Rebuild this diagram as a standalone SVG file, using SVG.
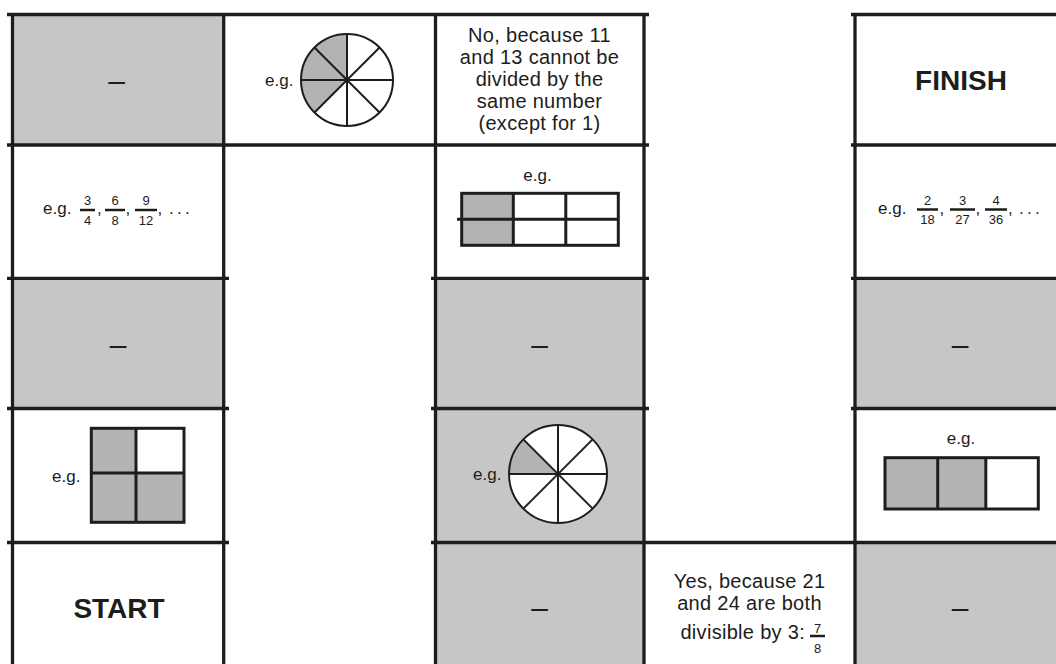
<svg xmlns="http://www.w3.org/2000/svg" width="1056" height="664" viewBox="0 0 1056 664">
<style>
.g{fill:#c6c6c6}
.w{fill:#ffffff}
.sh{fill:#b3b3b3}
.ln{stroke:#1d1d1b;stroke-width:3.3;fill:none;stroke-linecap:butt}
.t{font-family:"Liberation Sans",Arial,sans-serif;fill:#1d1d1b}
.body{font-size:20px;letter-spacing:0.3px;text-anchor:middle}
.bodyend{font-size:20px;letter-spacing:0.3px;text-anchor:end}
.big{font-size:28px;font-weight:bold;text-anchor:middle}
.eg{font-size:17px}
.egm{font-size:17px;text-anchor:middle}
.fr{font-size:13px;text-anchor:middle}
.dots{font-size:17px;letter-spacing:3.3px}
.dash{font-size:30px;text-anchor:middle}
.bar{stroke:#1d1d1b;stroke-width:2.5}
.dia{stroke:#1d1d1b;stroke-width:3;fill:none}
.pie{stroke:#1d1d1b;stroke-width:2;fill:none}
</style>
<rect x="0" y="0" width="1056" height="664" fill="#ffffff"/>

<g id="r1c1">
<rect class="g" x="12" y="14" width="212" height="131"/>
<text class="t dash" x="116.5" y="91">–</text>
</g>

<g id="r1c2">
<rect class="w" x="224" y="14" width="211" height="131"/>
<text class="t eg" x="265" y="85.5">e.g.</text>
<circle cx="347" cy="80" r="46" fill="#ffffff"/>
<path class="sh" d="M347,80 L347,34 A46,46 0 0 0 314.47,112.53 Z"/>
<g class="pie">
<circle cx="347" cy="80" r="46"/>
<line x1="301" y1="80" x2="393" y2="80"/>
<line x1="347" y1="34" x2="347" y2="126"/>
<line x1="314.47" y1="47.47" x2="379.53" y2="112.53"/>
<line x1="314.47" y1="112.53" x2="379.53" y2="47.47"/>
</g>
</g>

<g id="r1c3">
<rect class="w" x="435" y="14" width="209" height="131"/>
<text class="t body" x="539.5" y="41.5">No, because 11</text>
<text class="t body" x="539.5" y="63.5">and 13 cannot be</text>
<text class="t body" x="539.5" y="85.5">divided by the</text>
<text class="t body" x="539.5" y="107.5">same number</text>
<text class="t body" x="539.5" y="129.5">(except for 1)</text>
</g>

<g id="r1c5">
<rect class="w" x="855" y="14" width="201" height="131"/>
<text class="t big" x="961" y="90">FINISH</text>
</g>

<g id="r2c1">
<rect class="w" x="12" y="145" width="212" height="133"/>
<text class="t eg" x="43" y="213.5">e.g.</text>
<text class="t fr" x="87.5" y="205">3</text>
<line class="bar" x1="80" y1="210" x2="95" y2="210"/>
<text class="t fr" x="87.5" y="224.5">4</text>
<text class="t eg" x="97" y="214">,</text>
<text class="t fr" x="115" y="205">6</text>
<line class="bar" x1="105" y1="210" x2="125" y2="210"/>
<text class="t fr" x="115" y="224.5">8</text>
<text class="t eg" x="125.5" y="214">,</text>
<text class="t fr" x="146" y="205">9</text>
<line class="bar" x1="135" y1="210" x2="157" y2="210"/>
<text class="t fr" x="146" y="224.5">12</text>
<text class="t eg" x="157.5" y="214">,</text>
<text class="t dots" x="169" y="214">...</text>
</g>

<g id="r2c3">
<rect class="w" x="435" y="145" width="209" height="133"/>
<text class="t egm" x="537.5" y="181">e.g.</text>
<rect class="sh" x="461.7" y="193.3" width="51.6" height="52"/>
<g class="dia">
<rect x="461.7" y="193.3" width="156.6" height="52"/>
<line x1="457" y1="219.2" x2="618.3" y2="219.2"/>
<line x1="513.3" y1="193.3" x2="513.3" y2="245.3"/>
<line x1="565.8" y1="193.3" x2="565.8" y2="245.3"/>
</g>
</g>

<g id="r2c5">
<rect class="w" x="855" y="145" width="201" height="133"/>
<text class="t eg" x="878" y="214">e.g.</text>
<text class="t fr" x="927.5" y="204.5">2</text>
<line class="bar" x1="917" y1="209.5" x2="938" y2="209.5"/>
<text class="t fr" x="927.5" y="224">18</text>
<text class="t eg" x="939.5" y="214">,</text>
<text class="t fr" x="962.5" y="204.5">3</text>
<line class="bar" x1="950" y1="209.5" x2="975" y2="209.5"/>
<text class="t fr" x="962.5" y="224">27</text>
<text class="t eg" x="975.5" y="214">,</text>
<text class="t fr" x="996" y="204.5">4</text>
<line class="bar" x1="985" y1="209.5" x2="1007" y2="209.5"/>
<text class="t fr" x="996" y="224">36</text>
<text class="t eg" x="1008" y="214">,</text>
<text class="t dots" x="1019" y="214">...</text>
</g>

<g id="r3c1">
<rect class="g" x="12" y="278" width="212" height="130.5"/>
<text class="t dash" x="118" y="355">–</text>
</g>

<g id="r3c3">
<rect class="g" x="435" y="278" width="209" height="130.5"/>
<text class="t dash" x="539.5" y="355">–</text>
</g>

<g id="r3c5">
<rect class="g" x="855" y="278" width="201" height="130.5"/>
<text class="t dash" x="960" y="355">–</text>
</g>

<g id="r4c1">
<rect class="w" x="12" y="408.5" width="212" height="134"/>
<text class="t eg" x="52" y="481.5">e.g.</text>
<rect class="sh" x="91.3" y="428.3" width="44.7" height="94"/>
<rect class="sh" x="136" y="473" width="48" height="49.3"/>
<g class="dia">
<rect x="91.3" y="428.3" width="92.7" height="94"/>
<line x1="136" y1="428.3" x2="136" y2="522.3"/>
<line x1="91.3" y1="473" x2="184" y2="473"/>
</g>
</g>

<g id="r4c3">
<rect class="g" x="435" y="408.5" width="209" height="134"/>
<text class="t eg" x="473" y="480">e.g.</text>
<circle cx="558" cy="474" r="49" fill="#ffffff"/>
<path class="sh" d="M558,474 L509,474 A49,49 0 0 1 523.35,439.35 Z"/>
<g class="pie">
<circle cx="558" cy="474" r="49"/>
<line x1="509" y1="474" x2="607" y2="474"/>
<line x1="558" y1="425" x2="558" y2="523"/>
<line x1="523.35" y1="439.35" x2="592.65" y2="508.65"/>
<line x1="523.35" y1="508.65" x2="592.65" y2="439.35"/>
</g>
</g>

<g id="r4c5">
<rect class="w" x="855" y="408.5" width="201" height="134"/>
<text class="t egm" x="961" y="444">e.g.</text>
<rect class="sh" x="885" y="457.7" width="100.8" height="51.3"/>
<g class="dia">
<rect x="885" y="457.7" width="153.3" height="51.3"/>
<line x1="937.7" y1="457.7" x2="937.7" y2="509"/>
<line x1="985.8" y1="457.7" x2="985.8" y2="509"/>
</g>
</g>

<g id="r5c1">
<rect class="w" x="12" y="542.5" width="212" height="121.5"/>
<text class="t big" x="119" y="617.5">START</text>
</g>

<g id="r5c3">
<rect class="g" x="435" y="542.5" width="209" height="121.5"/>
<text class="t dash" x="539.5" y="618">–</text>
</g>

<g id="r5c4">
<rect class="w" x="644" y="542.5" width="211" height="121.5"/>
<text class="t body" x="749.5" y="587.5">Yes, because 21</text>
<text class="t body" x="749.5" y="609.5">and 24 are both</text>
<text class="t bodyend" x="805" y="639">divisible by 3:</text>
<text class="t fr" x="817.5" y="632.5">7</text>
<line class="bar" x1="810" y1="636" x2="825" y2="636"/>
<text class="t fr" x="817.5" y="653">8</text>
</g>

<g id="r5c5">
<rect class="g" x="855" y="542.5" width="201" height="121.5"/>
<text class="t dash" x="960" y="618">–</text>
</g>

<g id="grid" class="ln">
<line x1="12.5" y1="13" x2="12.5" y2="664"/>
<line x1="223.7" y1="13" x2="223.7" y2="664"/>
<line x1="435.5" y1="13" x2="435.5" y2="664"/>
<line x1="644" y1="13" x2="644" y2="664"/>
<line x1="855" y1="13" x2="855" y2="664"/>
<line x1="7" y1="14.5" x2="649" y2="14.5"/>
<line x1="851" y1="14.5" x2="1056" y2="14.5"/>
<line x1="7" y1="145" x2="649" y2="145"/>
<line x1="851" y1="145" x2="1056" y2="145"/>
<line x1="7" y1="278.3" x2="229" y2="278.3"/>
<line x1="431" y1="278.3" x2="649" y2="278.3"/>
<line x1="851" y1="278.3" x2="1056" y2="278.3"/>
<line x1="7" y1="408.5" x2="229" y2="408.5"/>
<line x1="431" y1="408.5" x2="649" y2="408.5"/>
<line x1="851" y1="408.5" x2="1056" y2="408.5"/>
<line x1="7" y1="542.5" x2="229" y2="542.5"/>
<line x1="431" y1="542.5" x2="1056" y2="542.5"/>
</g>
</svg>
